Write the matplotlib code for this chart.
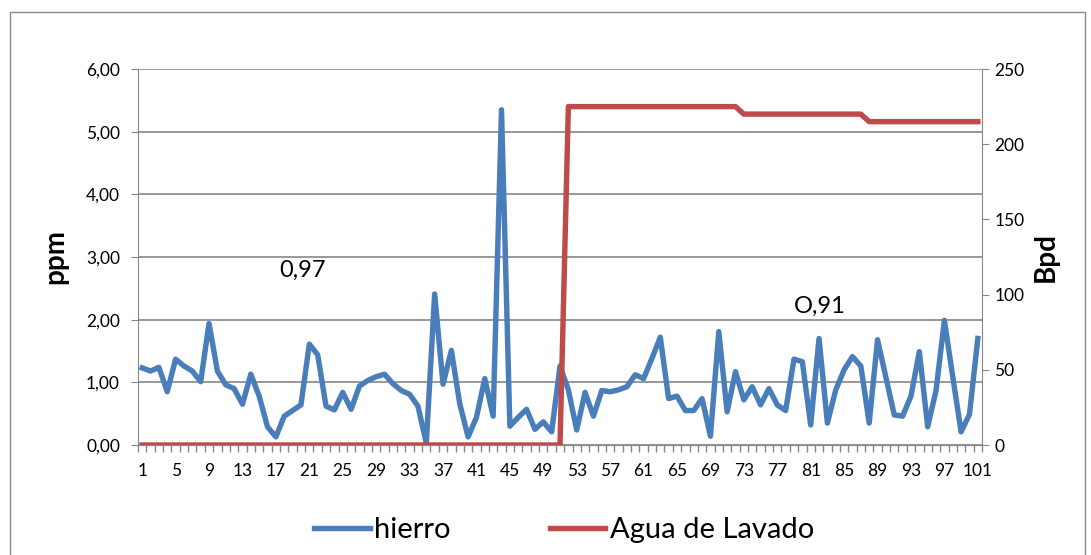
import matplotlib
matplotlib.use("Agg")
import matplotlib.pyplot as plt
from matplotlib.patches import Rectangle
from matplotlib.ticker import FixedLocator, FuncFormatter
from matplotlib.lines import Line2D
import numpy as np

plt.rcParams['font.family'] = ['Lato', 'DejaVu Sans']

muestras = list(range(1, 102))
hierro = [1.23, 1.18, 1.24, 0.85, 1.37, 1.26, 1.18, 1.01, 1.94, 1.18,
          0.96, 0.90, 0.65, 1.13, 0.78, 0.29, 0.13, 0.46, 0.55, 0.64,
          1.61, 1.44, 0.62, 0.56, 0.84, 0.57, 0.94, 1.03, 1.09, 1.13,
          0.98, 0.87, 0.81, 0.62, 0.03, 2.41, 0.97, 1.51, 0.66, 0.13,
          0.44, 1.06, 0.46, 5.35, 0.30, 0.44, 0.57, 0.25, 0.37, 0.21,
          1.26, 0.88, 0.24, 0.84, 0.46, 0.87, 0.85, 0.88, 0.93, 1.12,
          1.06, 1.38, 1.72, 0.74, 0.78, 0.55, 0.55, 0.74, 0.14, 1.81,
          0.53, 1.17, 0.72, 0.93, 0.64, 0.90, 0.64, 0.55, 1.37, 1.33,
          0.32, 1.70, 0.35, 0.88, 1.20, 1.41, 1.26, 0.35, 1.68, 1.08,
          0.48, 0.46, 0.78, 1.49, 0.29, 0.87, 1.99, 1.09, 0.21, 0.49,
          1.70]
agua = [0] * 51 + [225] * 21 + [220] * 15 + [215] * 14

left_ticks = [0, 1, 2, 3, 4, 5, 6]
right_ticks = [0, 50, 100, 150, 200, 250]
x_labels = list(range(1, 102, 4))

blue = '#4A7EBB'
red = '#BE4B48'
grid_c = '#868686'
lw = 3.9

fig = plt.figure(figsize=(10.91, 5.55), dpi=100)
fig.patches.append(Rectangle((10 / 1091, -0.05), 1075 / 1091, 1.05 - 12 / 555,
                             transform=fig.transFigure, fill=False,
                             edgecolor='#8C8C8C', linewidth=1.0))

ax = fig.add_axes([138 / 1091, (555 - 445) / 555, (982 - 138) / 1091, (445 - 69) / 555])
ax2 = ax.twinx()

ax.plot(muestras, hierro, color=blue, linewidth=lw, solid_joinstyle='round', zorder=3)
ax2.plot(muestras, agua, color=red, linewidth=lw, solid_joinstyle='round', zorder=3)

ax.set_xlim(0.5, 101.5)
ax.set_ylim(0, 6)
ax2.set_ylim(0, 250)

ax.set_yticks(left_ticks)
ax.yaxis.set_major_formatter(FuncFormatter(lambda v, p: f"{v:.2f}".replace('.', ',')))
ax2.set_yticks(right_ticks)

ax.set_xticks(x_labels)
ax.set_xticklabels([str(v) for v in x_labels])
ax.xaxis.set_minor_locator(FixedLocator(np.arange(0.5, 102, 1)))
ax.tick_params(axis='x', which='major', length=0, labelsize=12.5, pad=13)
ax.tick_params(axis='x', which='minor', length=5, color=grid_c, width=1)
ax.tick_params(axis='y', length=5, color=grid_c, labelsize=12.5, pad=8)
ax2.tick_params(axis='y', length=5, color=grid_c, labelsize=12.5, pad=4)

ax.grid(axis='y', color=grid_c, linewidth=1.2)
ax.set_axisbelow(True)
for a in (ax, ax2):
    for s in a.spines.values():
        s.set_color(grid_c)
    a.spines['top'].set_visible(False)
ax.spines['right'].set_visible(False)
ax2.spines['left'].set_visible(False)
ax2.spines['bottom'].set_visible(False)

ax.set_ylabel('ppm', fontsize=20, fontweight='bold', labelpad=13)
ax2.set_ylabel('Bpd', fontsize=20, fontweight='bold', labelpad=6)

ax.text(20.2, 2.79, '0,97', fontsize=17, ha='center', va='center')
ax.text(82.1, 2.22, 'O,91', fontsize=17, ha='center', va='center')

handles = [Line2D([0], [0], color=blue, linewidth=lw),
           Line2D([0], [0], color=red, linewidth=lw)]
fig.legend(handles, ['hierro', 'Agua de Lavado'], loc='center', ncol=2,
           bbox_to_anchor=(0.517, (555 - 530) / 555), frameon=False,
           fontsize=21, handlelength=1.9, handletextpad=0.15, columnspacing=3.4)

fig.savefig('out.png', dpi=100)
